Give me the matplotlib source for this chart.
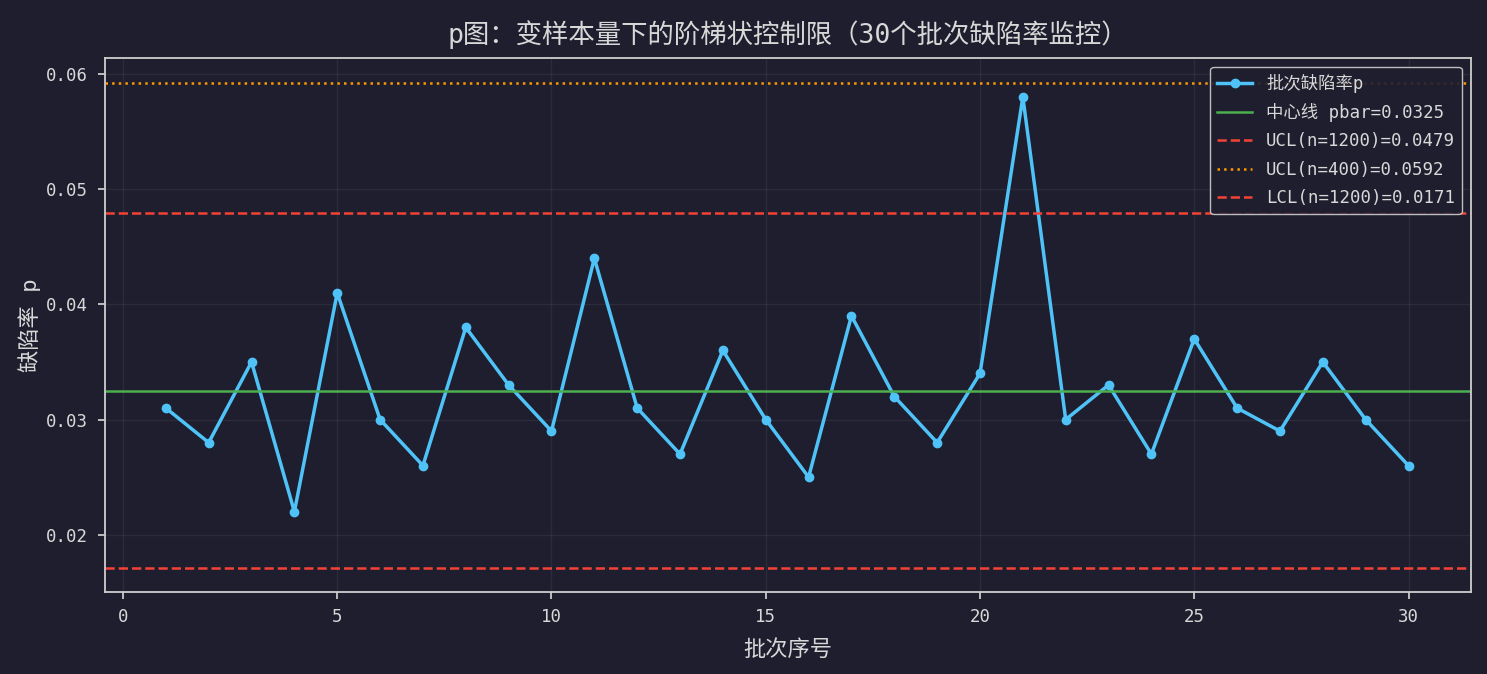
import numpy as np
import matplotlib
matplotlib.use("Agg")
import matplotlib.pyplot as plt

plt.rcParams['font.family'] = ['DejaVu Sans Mono', 'Noto Sans CJK SC']
plt.rcParams['axes.unicode_minus'] = False

batch = np.arange(1, 31)
p = [0.031, 0.028, 0.035, 0.022, 0.041, 0.030, 0.026, 0.038, 0.033, 0.029,
     0.044, 0.031, 0.027, 0.036, 0.030, 0.025, 0.039, 0.032, 0.028, 0.034,
     0.058, 0.030, 0.033, 0.027, 0.037, 0.031, 0.029, 0.035, 0.030, 0.026]
pbar = 0.0325
ucl_1200 = 0.0479
ucl_400 = 0.0592
lcl_1200 = 0.0171

bg = '#1e1e2e'
fg = '#d8d8d8'

fig, ax = plt.subplots(figsize=(14.87, 6.74), dpi=100)
fig.patch.set_facecolor(bg)
ax.set_facecolor(bg)

ax.plot(batch, p, color='#4fc3f7', lw=2.5, marker='o', ms=6, label='批次缺陷率p')
ax.axhline(pbar, color='#4caf50', lw=1.8, label=f'中心线 pbar={pbar:.4f}')
ax.axhline(ucl_1200, color='#f44336', lw=1.8, ls='--', label=f'UCL(n=1200)={ucl_1200:.4f}')
ax.axhline(ucl_400, color='#ff9800', lw=1.8, ls=':', label=f'UCL(n=400)={ucl_400:.4f}')
ax.axhline(lcl_1200, color='#f44336', lw=1.8, ls='--', label=f'LCL(n=1200)={lcl_1200:.4f}')

ax.set_xlim(-0.42, 31.45)
ax.set_ylim(0.01505, 0.06139)
ax.set_xticks([0, 5, 10, 15, 20, 25, 30])
ax.set_yticks([0.02, 0.03, 0.04, 0.05, 0.06])

ax.grid(True, color='#ffffff', alpha=0.06, lw=1)
for s in ax.spines.values():
    s.set_color('#cfcfcf')
    s.set_linewidth(1.3)
ax.tick_params(colors=fg, labelsize=12.5, length=5, width=1.2, pad=7)

ax.set_title('p图：变样本量下的阶梯状控制限（30个批次缺陷率监控）', color=fg, fontsize=19, pad=11)
ax.set_xlabel('批次序号', color=fg, fontsize=16, labelpad=9)
ax.set_ylabel('缺陷率 p', color=fg, fontsize=16, labelpad=4)

leg = ax.legend(loc='upper right', fontsize=12.5, facecolor=bg, edgecolor='#cfcfcf',
                framealpha=0.9, labelcolor=fg, labelspacing=0.6)

fig.subplots_adjust(left=0.0706, right=0.989, top=0.914, bottom=0.122)
fig.savefig('out.png', dpi=100, facecolor=bg)
